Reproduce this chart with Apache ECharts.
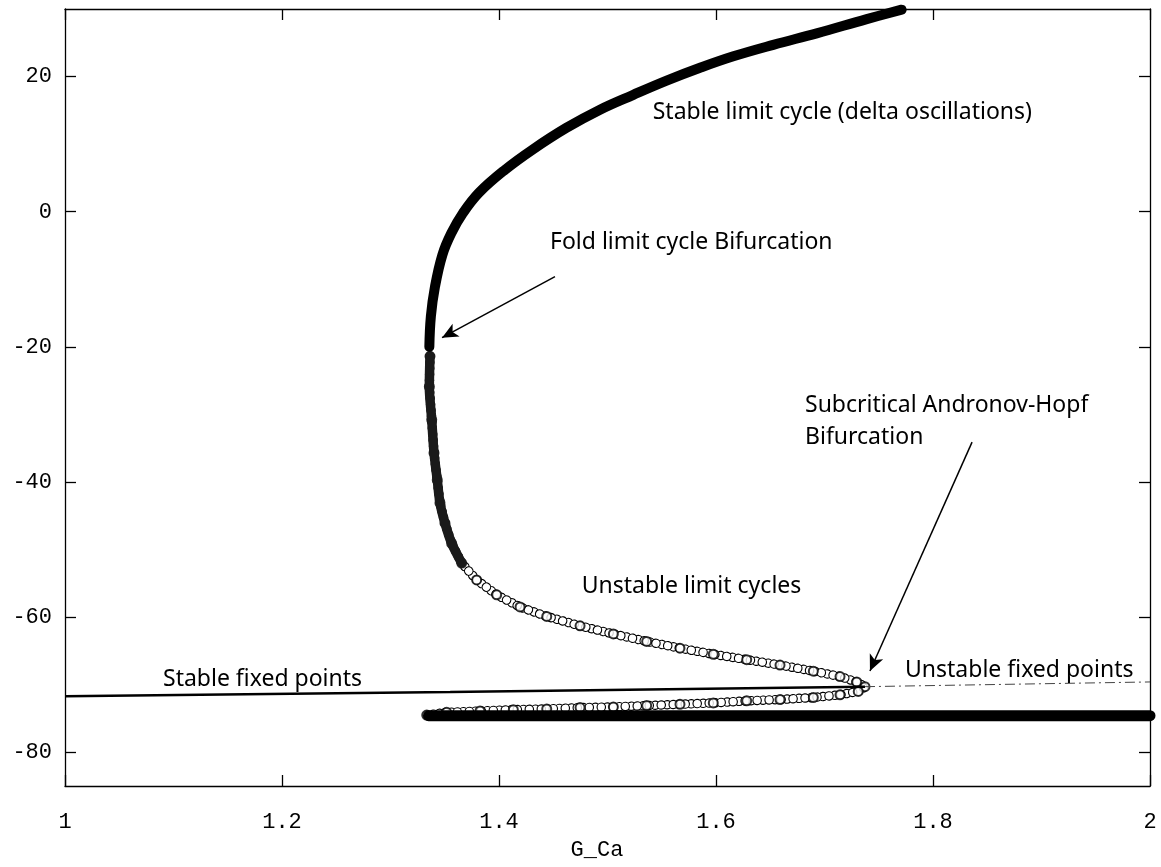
<!DOCTYPE html>
<html>
<head>
<meta charset="utf-8">
<script src="https://cdn.jsdelivr.net/npm/echarts@6/dist/echarts.min.js"></script>
<style>
html,body{margin:0;padding:0;background:#fff;}
#chart{width:1161px;height:867px;}
</style>
</head>
<body>
<div id="chart"></div>
<script>
// ---- data ----
const xTicks = [1, 1.2, 1.4, 1.6, 1.8, 2];
const yTicks = [-80, -60, -40, -20, 0, 20];

// stable limit cycle: maximum (upper branch) and minimum (bottom branch)
const stableCycleMax = [
  [1.3358,-20.0],[1.3372,-15.5],[1.3410,-11.1],[1.3478,-6.4],[1.3560,-3.2],
  [1.3668,-0.2],[1.3815,2.8],[1.4055,6.2],[1.4310,9.2],[1.4620,12.4],
  [1.4931,15.1],[1.5238,17.3],[1.5545,19.4],[1.5853,21.3],[1.6160,23.0],
  [1.6528,24.7],[1.6928,26.4],[1.7389,28.5],[1.7711,29.9]
];
const stableCycleMin = [[1.335,-74.6],[1.5,-74.6],[1.75,-74.6],[2.0,-74.6]];

// unstable limit cycles: from the fold down to the Hopf point and back
const unstableCycle = [
  [1.3364,-21.4],[1.3358,-25.9],[1.3380,-30.8],[1.3401,-35.7],[1.3431,-39.7],
  [1.3456,-43.1],[1.3502,-46.1],[1.3564,-49.1],[1.3656,-52.0],[1.3794,-54.5],
  [1.3979,-56.7],[1.4194,-58.5],[1.4440,-59.9],[1.4747,-61.3],[1.5054,-62.5],
  [1.5361,-63.6],[1.5668,-64.6],[1.5975,-65.5],[1.6283,-66.3],[1.6590,-67.1],
  [1.6897,-68.0],[1.7143,-68.8],[1.7297,-69.6],[1.7373,-70.3],
  [1.7311,-71.0],[1.7143,-71.5],[1.6897,-71.9],[1.6590,-72.2],[1.6283,-72.4],
  [1.5975,-72.7],[1.5668,-72.9],[1.5361,-73.1],[1.5054,-73.3],[1.4747,-73.4],
  [1.4440,-73.6],[1.4132,-73.7],[1.3825,-73.9],[1.3518,-74.1],[1.3334,-74.5]
];
const denseUnstable = unstableCycle.slice(0, 9);

// fixed points
const stableFixed = [[1.0,-71.7],[1.355,-71.1],[1.7373,-70.3]];
const unstableFixed = [[1.7373,-70.3],[2.0,-69.6]];

// annotation arrows (start, end) in data coordinates
const foldArrow = [[1.4516,-9.6],[1.3475,-18.65]];
const hopfArrow = [[1.836,-34.1],[1.7419,-67.97]];

// ---- chart ----
const mono = '"Liberation Mono", "DejaVu Sans Mono", monospace';
const sans = '"Noto Sans", "Open Sans", sans-serif';
const chart = echarts.init(document.getElementById('chart'), null, {renderer: 'canvas'});

const axisLineStyle = {show: true, onZero: false, lineStyle: {color: '#000', width: 1.3}};
const tickStyle = {show: true, inside: true, length: 11, lineStyle: {color: '#000', width: 1.3}};
const fmtX = v => String(parseFloat(Number(v).toFixed(2)));

function txt(text, x, y) {
  return {
    type: 'text', x: x, y: y, silent: true, z: 100,
    style: {text: text, fill: '#000', font: '23px ' + sans, verticalAlign: 'middle', align: 'left'}
  };
}

// ring chain look for the unstable cycle: two interleaved sets of rings
function ringLayer(color, width, offset, z) {
  return {
    name: 'Unstable limit cycles ring', type: 'line', data: unstableCycle, symbol: 'none',
    silent: true, z: z,
    lineStyle: {color: color, width: width, type: [0.1, 11.9], dashOffset: offset, cap: 'round', join: 'round'}
  };
}

chart.setOption({
  animation: false,
  backgroundColor: '#fff',
  grid: {left: 65, right: 11, top: 9, bottom: 81, containLabel: false},
  xAxis: [
    {
      type: 'value', min: xTicks[0], max: xTicks[xTicks.length - 1], interval: 0.2,
      position: 'bottom',
      name: 'G_Ca', nameLocation: 'middle', nameGap: 53,
      nameTextStyle: {fontFamily: mono, fontSize: 22, color: '#000', padding: [0, 21, 0, 0]},
      axisLine: axisLineStyle, axisTick: tickStyle,
      axisLabel: {color: '#000', fontFamily: mono, fontSize: 22, margin: 25, formatter: fmtX},
      splitLine: {show: false}
    },
    {
      type: 'value', min: xTicks[0], max: xTicks[xTicks.length - 1], interval: 0.2,
      position: 'top',
      axisLine: axisLineStyle, axisTick: tickStyle,
      axisLabel: {show: false}, splitLine: {show: false}
    }
  ],
  yAxis: [
    {
      type: 'value', min: -85, max: 30, position: 'left',
      axisLine: axisLineStyle,
      axisTick: Object.assign({customValues: yTicks}, tickStyle),
      axisLabel: {customValues: yTicks, color: '#000', fontFamily: mono, fontSize: 22, margin: 13},
      splitLine: {show: false}
    },
    {
      type: 'value', min: -85, max: 30, position: 'right',
      axisLine: axisLineStyle,
      axisTick: Object.assign({customValues: yTicks}, tickStyle),
      axisLabel: {show: false}, splitLine: {show: false}
    }
  ],
  series: [
    ringLayer('#000', 9.5, 0, 2),
    ringLayer('#fff', 7.2, 0, 3),
    ringLayer('#000', 9.5, 6, 4),
    ringLayer('#fff', 7.2, 6, 5),
    {
      name: 'Unstable limit cycles', type: 'scatter', data: unstableCycle,
      symbol: 'emptyCircle', symbolSize: 9, silent: true, z: 6,
      itemStyle: {color: '#000', borderColor: '#000', borderWidth: 1.1}
    },
    {
      name: 'Unstable limit cycles dense', type: 'line', data: denseUnstable, symbol: 'none',
      silent: true, z: 7, smooth: 0.3,
      lineStyle: {color: '#1a1a1a', width: 9.5, cap: 'round', join: 'round'}
    },
    {
      name: 'Stable fixed points', type: 'line', data: stableFixed, symbol: 'none',
      silent: true, z: 8,
      lineStyle: {color: '#000', width: 2.5},
      markLine: {
        silent: true, animation: false,
        symbol: ['none', 'arrow'], symbolSize: [11, 16],
        label: {show: false},
        lineStyle: {color: '#000', width: 1.5, type: 'solid'},
        data: [
          [{coord: foldArrow[0]}, {coord: foldArrow[1]}],
          [{coord: hopfArrow[0]}, {coord: hopfArrow[1]}]
        ]
      }
    },
    {
      name: 'Unstable fixed points', type: 'line', data: unstableFixed, symbol: 'none',
      silent: true, z: 8,
      lineStyle: {color: '#444', width: 1, type: [10, 4, 2, 4]}
    },
    {
      name: 'Stable limit cycle max', type: 'line', data: stableCycleMax, symbol: 'none',
      silent: true, z: 9, clip: false, smooth: 0.4,
      lineStyle: {color: '#000', width: 10, cap: 'round', join: 'round'}
    },
    {
      name: 'Stable limit cycle min', type: 'line', data: stableCycleMin, symbol: 'none',
      silent: true, z: 9, clip: false,
      lineStyle: {color: '#000', width: 11, cap: 'round', join: 'round'}
    }
  ],
  graphic: [
    txt('Stable limit cycle (delta oscillations)', 652.7, 112.5),
    txt('Fold limit cycle Bifurcation', 550, 242.3),
    txt('Subcritical Andronov-Hopf', 805, 405),
    txt('Bifurcation', 805, 437.5),
    txt('Unstable limit cycles', 581.7, 586.7),
    txt('Stable fixed points', 163, 679),
    txt('Unstable fixed points', 905, 670)
  ]
});
</script>
</body>
</html>
